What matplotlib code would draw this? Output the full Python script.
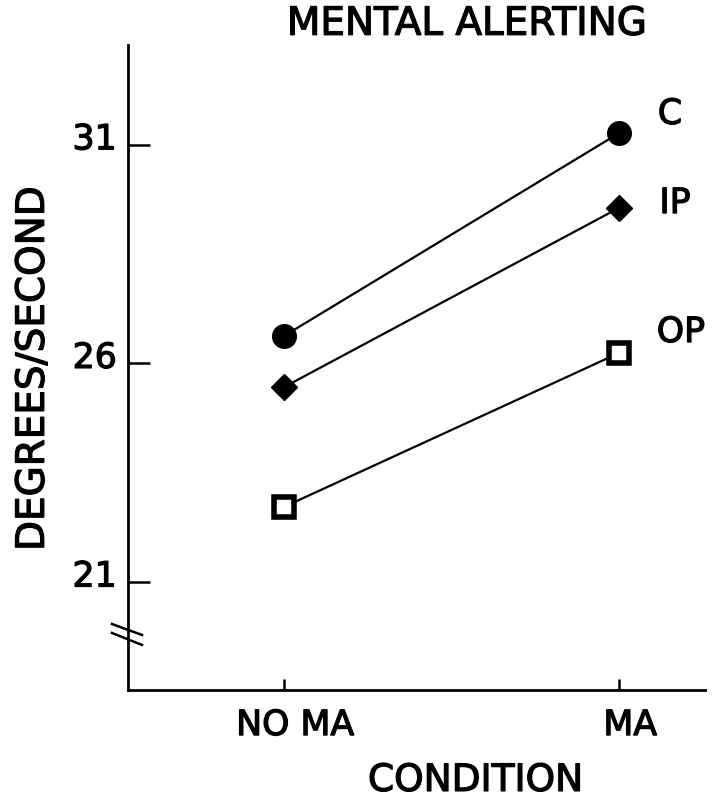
import matplotlib

matplotlib.use("Agg")
import matplotlib.patheffects as pe
import matplotlib.pyplot as plt
from matplotlib.transforms import ScaledTranslation

plt.rcParams["font.family"] = ["DejaVu Sans"]

conditions = ["NO MA", "MA"]
groups = ["C", "IP", "OP"]
c_vals = [26.63, 31.27]
ip_vals = [25.46, 29.56]
op_vals = [22.72, 26.24]
yticks = [21, 26, 31]

# slightly heavier strokes for the text, like the printed original
heavy = [pe.withStroke(linewidth=0.9, foreground="black")]

fig = plt.figure(figsize=(7.13, 8.0), dpi=100)
ax = fig.add_axes([0.1795, 0.1375, 0.8095, 0.8065])

x = [0, 1]
ax.plot(x, c_vals, "-o", color="black", lw=1.6, ms=17, zorder=3)
ax.plot(x, ip_vals, "-D", color="black", lw=1.6, ms=13, zorder=3)
ax.plot(x, op_vals, "-s", color="black", lw=1.6, ms=14.5, mfc="white", mec="black", mew=4, zorder=3)

# series labels to the right of the MA points
label_pos = [(1.152, 31.71), (1.167, 29.67), (1.185, 26.72)]
for name, (lx, ly) in zip(groups, label_pos):
    ax.text(lx, ly, name, fontsize=25, ha="center", va="center", path_effects=heavy)

ax.set_xlim(-0.466, 1.257)
ax.set_ylim(18.53, 33.29)
ax.set_xticks(x, conditions)
ax.set_yticks(yticks)
ax.tick_params(axis="y", direction="in", length=16, width=1.8, pad=8, labelsize=25)
ax.tick_params(axis="x", direction="in", length=8, width=1.8, pad=13, labelsize=25)
for lab in ax.get_yticklabels():
    lab.set_transform(lab.get_transform() + ScaledTranslation(0, 6.5 / 72, fig.dpi_scale_trans))
    lab.set_path_effects(heavy)
for lab in ax.get_xticklabels():
    lab.set_transform(lab.get_transform() + ScaledTranslation(8 / 72, 0, fig.dpi_scale_trans))
    lab.set_path_effects(heavy)
for s in ["top", "right"]:
    ax.spines[s].set_visible(False)
for s in ["left", "bottom"]:
    ax.spines[s].set_linewidth(2)

ax.set_xlabel("CONDITION", fontsize=27, path_effects=heavy)
ax.xaxis.set_label_coords(0.602, -0.113)
ax.set_ylabel("DEGREES/SECOND", fontsize=28, path_effects=heavy)
ax.yaxis.set_label_coords(-0.132, 0.498)
ax.text(0.5875, 1.0326, "MENTAL ALERTING", transform=ax.transAxes, fontsize=28,
        ha="center", va="center", path_effects=heavy)

# axis break marks
for y0, y1 in [(0.1023, 0.0853), (0.0884, 0.0698)]:
    ax.plot([-0.0277, 0.0243], [y0, y1], transform=ax.transAxes, color="black", lw=1.8, clip_on=False)

fig.savefig("out.png", dpi=100)
